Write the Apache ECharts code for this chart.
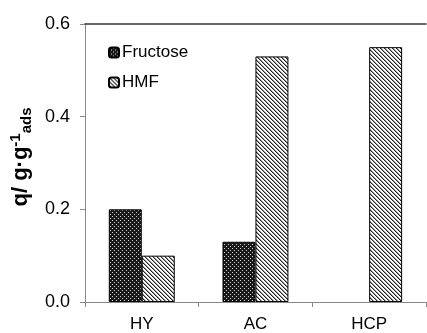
<!DOCTYPE html>
<html><head><meta charset="utf-8">
<script src="https://cdn.jsdelivr.net/npm/echarts@6/dist/echarts.min.js"></script>
<style>html,body{margin:0;padding:0;background:#fff}#c{width:427px;height:333px}</style>
</head><body><div id="c"></div>
<script>
const categories = ['HY', 'AC', 'HCP'];
const fructose = [0.20, 0.13, 0];
const hmf = [0.10, 0.53, 0.55];
const yTicks = [0, 0.2, 0.4, 0.6];

function makePattern(kind) {
  const c = document.createElement('canvas');
  c.width = 4; c.height = 4;
  const g = c.getContext('2d');
  if (kind === 'dots') {
    g.fillStyle = '#1a1a1a'; g.fillRect(0, 0, 4, 4);
    g.fillStyle = '#d0d0d0';
    g.fillRect(0, 0, 1, 1); g.fillRect(2, 2, 1, 1);
  } else {
    g.fillStyle = '#ffffff'; g.fillRect(0, 0, 4, 4);
    for (let i = 0; i < 4; i++) {
      g.fillStyle = '#222'; g.fillRect(i, i, 1, 1);
      g.fillStyle = '#999'; g.fillRect((i + 1) % 4, i, 1, 1);
    }
  }
  return { image: c, repeat: 'repeat' };
}
const noZero = arr => arr.map(v => (v === 0 ? '-' : v));

const font = 'Arial, "Liberation Sans", sans-serif';
const chart = echarts.init(document.getElementById('c'));
chart.setOption({
  animation: false,
  backgroundColor: '#fff',
  textStyle: { fontFamily: font },
  grid: { left: 84, right: 1, top: 24, bottom: 31 },
  legend: {
    orient: 'vertical', left: 103, top: 39, itemWidth: 10, itemHeight: 10, itemGap: 13,
    textStyle: { fontSize: 17, color: '#000', fontFamily: font, padding: [0, 0, 0, -2] },
    data: ['Fructose', 'HMF']
  },
  xAxis: [{
    type: 'category', data: categories,
    axisLine: { lineStyle: { color: '#888', width: 1 } },
    axisTick: { show: true, length: 5, lineStyle: { color: '#888' } },
    axisLabel: { fontSize: 17, color: '#000', margin: 14, fontFamily: font }
  }, {
    type: 'category', data: categories, position: 'top',
    axisLine: { show: true, lineStyle: { color: '#333', width: 1.5 } },
    axisTick: { show: false }, axisLabel: { show: false }
  }],
  yAxis: {
    type: 'value', min: yTicks[0], max: yTicks[yTicks.length - 1], interval: 0.2,
    axisLine: { show: true, lineStyle: { color: '#888', width: 1 } },
    axisTick: { show: true, length: 5, lineStyle: { color: '#888' } },
    splitLine: { show: false },
    axisLabel: { fontSize: 18, color: '#000', margin: 15, fontFamily: font,
      formatter: v => v.toFixed(1) },
    name: '{a|q/ g·g}{b|-1}{c|ads}',
    nameLocation: 'middle', nameRotate: 90, nameGap: 43,
    nameTextStyle: {
      fontFamily: font, color: '#000', padding: [0, 0, 0, 12],
      rich: {
        a: { fontSize: 22, fontWeight: 'bold', lineHeight: 26, verticalAlign: 'middle', fontFamily: font },
        b: { fontSize: 15, fontWeight: 'bold', lineHeight: 26, verticalAlign: 'top', fontFamily: font },
        c: { fontSize: 15, fontWeight: 'bold', lineHeight: 26, verticalAlign: 'bottom', fontFamily: font }
      }
    }
  },
  series: [{
    name: 'Fructose', type: 'bar', data: noZero(fructose), barGap: '0%', barCategoryGap: '42%',
    itemStyle: { color: makePattern('dots'), borderColor: '#000', borderWidth: 1 }
  }, {
    name: 'HMF', type: 'bar', data: hmf,
    itemStyle: { color: makePattern('hatch'), borderColor: '#000', borderWidth: 1 }
  }]
});
</script></body></html>
